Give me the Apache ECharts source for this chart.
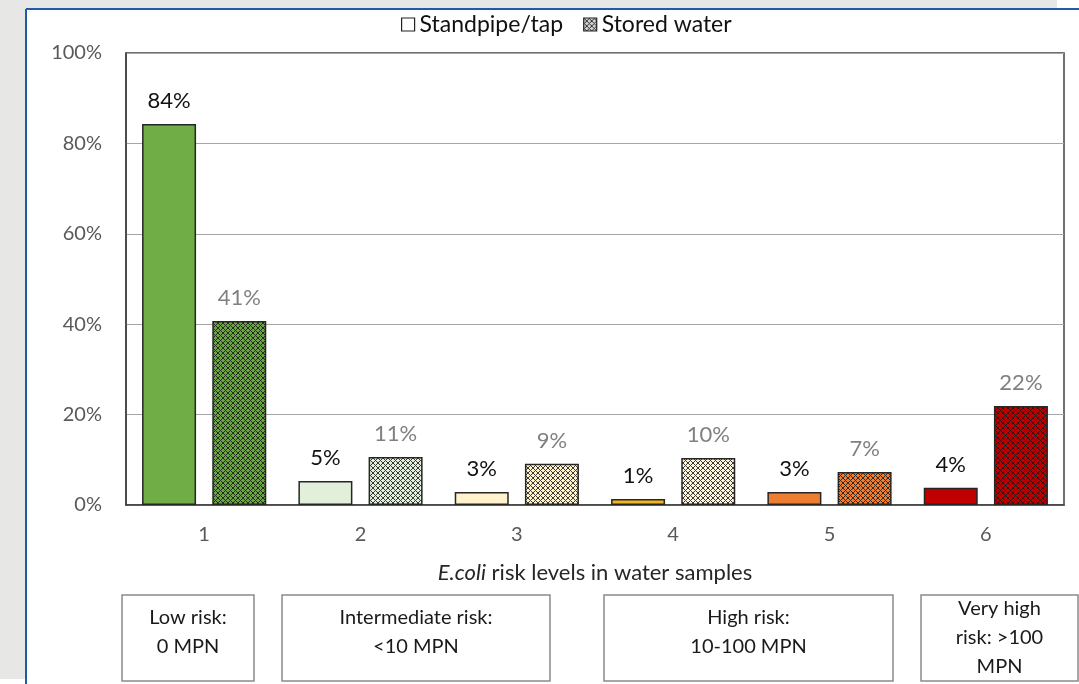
<!DOCTYPE html>
<html>
<head>
<meta charset="utf-8">
<script src="https://cdn.jsdelivr.net/npm/echarts@6/dist/echarts.min.js"></script>
<style>
html,body{margin:0;padding:0;background:#fff;}
#c{width:1079px;height:684px;}
</style>
</head>
<body>
<div id="c"></div>
<script>
const categories = ['1', '2', '3', '4', '5', '6'];
const standpipe = [84.3, 5.3, 2.9, 1.3, 2.9, 3.8];
const stored = [40.7, 10.6, 9.1, 10.4, 7.3, 21.9];
const standpipeColors = ['#70ad47', '#e2efda', '#fff2cc', '#f2b51f', '#ed7d31', '#c00000'];
const storedColors = ['#6aa443', '#e2efda', '#fff2cc', '#fdf5dc', '#ed7d31', '#c00000'];
const seriesNames = ['Standpipe/tap', 'Stored water'];
const yTicks = [0, 20, 40, 60, 80, 100];
const riskBoxes = [
  {text: 'Low risk:\n0 MPN', x: 122, w: 132},
  {text: 'Intermediate risk:\n<10 MPN', x: 282, w: 268},
  {text: 'High risk:\n10-100 MPN', x: 604, w: 289},
  {text: 'Very high\nrisk: >100\nMPN', x: 921, w: 157}
];

const FONT = 'Lato, "Open Sans", sans-serif';

function makePattern(base, dark) {
  const n = 5;
  const c = document.createElement('canvas');
  c.width = n; c.height = n;
  const ctx = c.getContext('2d');
  ctx.fillStyle = base;
  ctx.fillRect(0, 0, n, n);
  ctx.fillStyle = dark;
  for (let x = 0; x < n; x++) {
    for (let y = 0; y < n; y++) {
      if ((x + y) % n === 0 || ((x - y) % n + n) % n === 0) ctx.fillRect(x, y, 1, 1);
    }
  }
  return {image: c, repeat: 'repeat'};
}

const chart = echarts.init(document.getElementById('c'), null, {renderer: 'canvas'});

const graphics = [
  {type: 'rect', z: 0, shape: {x: 0, y: 0, width: 1057, height: 8}, style: {fill: '#e7e7e5'}},
  {type: 'rect', z: 0, shape: {x: 0, y: 0, width: 26, height: 679}, style: {fill: '#e7e7e5'}},
  {type: 'line', z: 1, shape: {x1: 26, y1: 9, x2: 1079, y2: 9}, style: {stroke: '#1f5ba7', lineWidth: 2}},
  {type: 'line', z: 1, shape: {x1: 26, y1: 9, x2: 26, y2: 684}, style: {stroke: '#1f5ba7', lineWidth: 2}}
];
riskBoxes.forEach(b => {
  const lines = b.text.split('\n').length;
  const cy = lines === 3 ? 638 : 632;
  graphics.push({
    type: 'rect', shape: {x: b.x, y: 595, width: b.w, height: 86},
    style: {fill: '#fff', stroke: '#8a8a8a', lineWidth: 1.5}
  });
  graphics.push({
    type: 'text', x: b.x + b.w / 2, y: cy,
    style: {text: b.text, fill: '#1a1a1a', fontSize: 20, fontFamily: FONT,
      align: 'center', verticalAlign: 'middle', lineHeight: 29}
  });
});

const option = {
  backgroundColor: '#fff',
  animation: false,
  textStyle: {fontFamily: FONT},
  legend: {
    left: 396, top: 8,
    itemWidth: 13, itemHeight: 13, itemGap: 20,
    textStyle: {fontSize: 23, color: '#111', fontFamily: FONT},
    data: [
      {name: seriesNames[0], icon: 'rect', itemStyle: {color: '#fff', borderColor: '#222', borderWidth: 1.2}},
      {name: seriesNames[1], icon: 'rect', itemStyle: {color: makePattern('#d0d0d0', '#333'), borderColor: '#222', borderWidth: 1.2}}
    ]
  },
  grid: {left: 126, right: 15, top: 53, bottom: 179, show: true, borderColor: '#404040', borderWidth: 1.5, containLabel: false},
  xAxis: {
    type: 'category', data: categories,
    axisLine: {lineStyle: {color: '#404040', width: 1.5}},
    axisTick: {show: false},
    axisLabel: {color: '#595959', fontSize: 20, margin: 20, fontFamily: FONT},
    name: '{i|E.coli} risk levels in water samples',
    nameLocation: 'middle', nameGap: 57,
    nameTextStyle: {fontSize: 22, color: '#262626', fontFamily: FONT,
      rich: {i: {fontStyle: 'italic', fontSize: 22, color: '#262626', fontFamily: FONT}}}
  },
  yAxis: {
    type: 'value', min: yTicks[0], max: yTicks[yTicks.length - 1], interval: yTicks[1] - yTicks[0],
    axisLine: {show: true, lineStyle: {color: '#404040', width: 1.5}},
    axisTick: {show: false},
    axisLabel: {formatter: '{value}%', color: '#595959', fontSize: 20, margin: 24, fontFamily: FONT},
    splitLine: {lineStyle: {color: '#a6a6a6', width: 1}}
  },
  graphic: graphics,
  series: [
    {
      name: seriesNames[0], type: 'bar', barWidth: 54, barGap: '30%',
      data: standpipe.map((v, i) => ({value: v, itemStyle: {color: standpipeColors[i]}})),
      itemStyle: {borderColor: '#262626', borderWidth: 1.5},
      label: {show: true, position: 'top', distance: 12, color: '#111', fontSize: 22, fontFamily: FONT,
        formatter: p => Math.round(p.value) + '%'}
    },
    {
      name: seriesNames[1], type: 'bar', barWidth: 54,
      data: stored.map((v, i) => ({value: v, itemStyle: {color: makePattern(storedColors[i], 'rgba(25,25,25,0.85)')}})),
      itemStyle: {borderColor: '#262626', borderWidth: 1.5},
      label: {show: true, position: 'top', distance: 12, color: '#808080', fontSize: 22, fontFamily: FONT,
        formatter: p => Math.round(p.value) + '%'}
    }
  ]
};
chart.setOption(option);
</script>
</body>
</html>
